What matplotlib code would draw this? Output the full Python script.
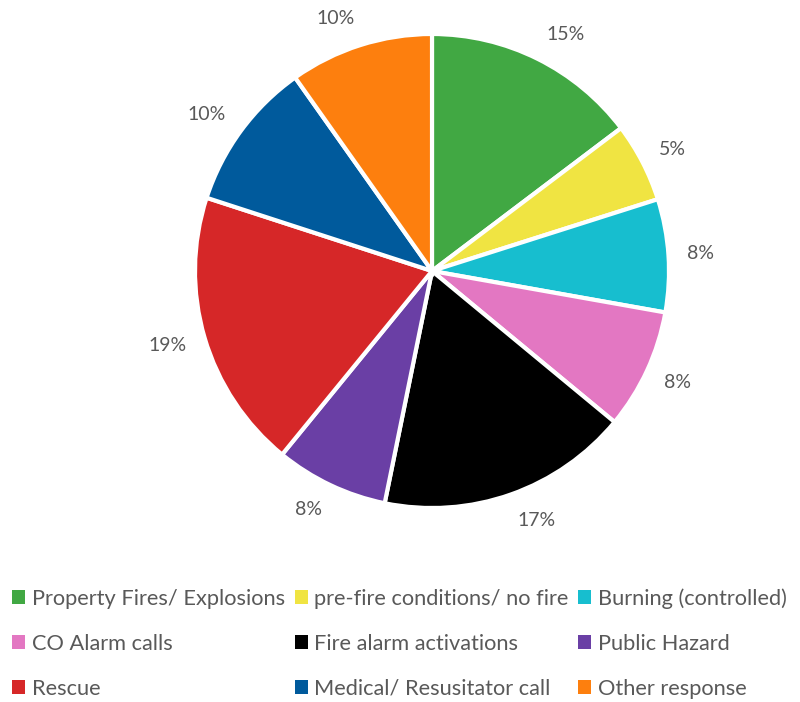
import numpy as np
import matplotlib.pyplot as plt
from matplotlib.patches import Patch

categories = [
    "Property Fires/ Explosions",
    "pre-fire conditions/ no fire",
    "Burning (controlled)",
    "CO Alarm calls",
    "Fire alarm activations",
    "Public Hazard",
    "Rescue",
    "Medical/ Resusitator call",
    "Other response",
]
shares = [14.7, 5.4, 7.7, 8.2, 17.2, 7.7, 19.1, 10.2, 9.8]
colors = [
    "#41a843", "#f0e442", "#17becf", "#e377c2", "#000000",
    "#6a3fa5", "#d62728", "#005a9c", "#fd7f0e",
]

plt.rcParams["font.family"] = ["Lato", "DejaVu Sans"]
text_color = "#595959"

fig = plt.figure(figsize=(8, 7.02), dpi=100)
# pie centre ~(432, 271) px, radius ~237 px
radius_px = 237
ax = fig.add_axes([(432 - radius_px) / 800, 1 - (271 + radius_px) / 702,
                   2 * radius_px / 800, 2 * radius_px / 702])

wedges, _, autotexts = ax.pie(
    shares,
    colors=colors,
    startangle=90,
    counterclock=False,
    autopct=lambda p: f"{p:.0f}%",
    pctdistance=1.1,
    wedgeprops=dict(edgecolor="white", linewidth=3),
    textprops=dict(color=text_color, fontsize=14),
)
ax.set_xlim(-1, 1)
ax.set_ylim(-1, 1)
ax.set_aspect("equal")

# place labels like Excel: box edge sits just outside the wedge
renderer = fig.canvas.get_renderer()
for w, t in zip(wedges, autotexts):
    theta = np.deg2rad((w.theta1 + w.theta2) / 2)
    ext = t.get_window_extent(renderer)
    half_w = ext.width / 2 / radius_px
    half_h = ext.height / 2 / radius_px
    c, s = np.cos(theta), np.sin(theta)
    x = 1.08 * c + half_w * np.sign(c)
    y = 1.08 * s + half_h * s
    t.set_position((x, y))
    t.set_ha("center")
    t.set_va("center")

# legend rows are filled left-to-right, matplotlib fills columns first
order = [0, 3, 6, 1, 4, 7, 2, 5, 8]
handles = [Patch(facecolor=colors[i], edgecolor="none") for i in order]
labels = [categories[i] for i in order]
fig.legend(
    handles, labels,
    ncol=3,
    loc="upper left",
    bbox_to_anchor=(12 / 800, 1 - 588 / 702),
    frameon=False,
    fontsize=15.7,
    labelcolor=text_color,
    handlelength=0.6,
    handleheight=0.6,
    handletextpad=0.3,
    columnspacing=0.45,
    labelspacing=1.15,
    borderpad=0,
    borderaxespad=0,
)

fig.savefig("out.png", dpi=100)
